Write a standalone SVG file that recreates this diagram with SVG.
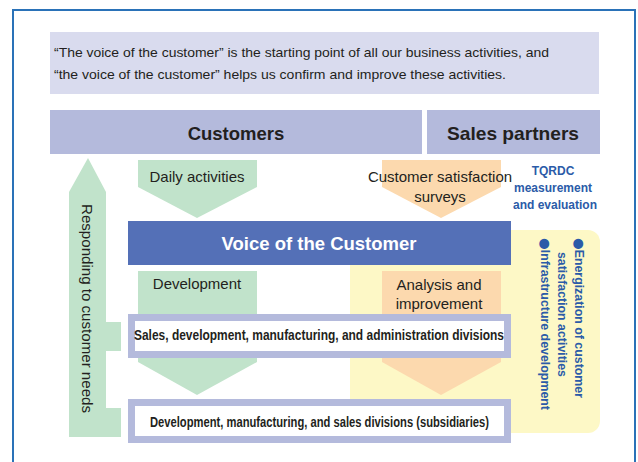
<svg xmlns="http://www.w3.org/2000/svg" width="638" height="462" viewBox="0 0 638 462">
<style>
.t{font-family:"Liberation Sans",Arial,sans-serif;fill:#231f20}
.r{font-size:15px}
.b{font-weight:bold}
.blue{fill:#2b5ba8;font-weight:bold;font-size:12px}
.bul{font-family:"DejaVu Sans",sans-serif;font-size:13px}
.green{fill:#c1e3cb}
.peach{fill:#fcd9ae}
.bar{fill:#b4badc}
.box{fill:#ffffff;stroke:#b4badc;stroke-width:7}
</style>
<rect width="638" height="462" fill="#ffffff"/>
<rect x="13" y="10" width="622" height="462" fill="none" stroke="#2a72b8" stroke-width="2"/>

<g id="intro">
<rect x="50" y="32" width="549" height="62" fill="#d9dbee"/>
<text class="t" x="54" y="57" font-size="13" textLength="495" lengthAdjust="spacingAndGlyphs">“The voice of the customer” is the starting point of all our business activities, and</text>
<text class="t" x="54" y="79" font-size="13" textLength="452" lengthAdjust="spacingAndGlyphs">“the voice of the customer” helps us confirm and improve these activities.</text>
</g>

<g id="customers">
<rect class="bar" x="50" y="110" width="372" height="44"/>
<text class="t b" x="236" y="140" font-size="18.5" text-anchor="middle">Customers</text>
</g>
<g id="sales-partners">
<rect class="bar" x="427" y="110" width="173" height="44"/>
<text class="t b" x="513" y="140" font-size="18.5" text-anchor="middle" textLength="132" lengthAdjust="spacingAndGlyphs">Sales partners</text>
</g>

<g id="support-area">
<rect x="350" y="230" width="250" height="203" rx="12" fill="#fdf8c6"/>
<text class="t blue" transform="translate(575,238) rotate(90)" font-size="12" textLength="160" lengthAdjust="spacingAndGlyphs"><tspan class="bul">●</tspan>Energization of customer</text>
<text class="t blue" transform="translate(558,252) rotate(90)" font-size="12" textLength="125" lengthAdjust="spacingAndGlyphs">satisfaction activities</text>
<text class="t blue" transform="translate(541,238) rotate(90)" font-size="12" textLength="172" lengthAdjust="spacingAndGlyphs"><tspan class="bul">●</tspan>Infrastructure development</text>
</g>

<g id="tqrdc">
<text class="t blue" x="553" y="175" text-anchor="middle">TQRDC</text>
<text class="t blue" x="553" y="192" text-anchor="middle">measurement</text>
<text class="t blue" x="555" y="209" text-anchor="middle">and evaluation</text>
</g>

<g id="connectors">
<g id="responding">
<path class="green" d="M88,158 L106,192 L106,322 L121,322 L121,351 L106,351 L106,408 L121,408 L121,437 L69,437 L69,192 Z"/>
<text class="t" transform="translate(82,204) rotate(90)" font-size="15" textLength="209" lengthAdjust="spacingAndGlyphs">Responding to customer needs</text>
</g>
<g id="daily-activities">
<path class="green" d="M138,160 L257,160 L257,187 L197,218 L138,187 Z"/>
<text class="t r" x="197" y="182" text-anchor="middle">Daily activities</text>
</g>
<g id="satisfaction-surveys">
<path class="peach" d="M382,160 L501,160 L501,187 L441,218 L382,187 Z"/>
<text class="t r" x="440" y="182" text-anchor="middle">Customer satisfaction</text>
<text class="t r" x="440" y="202" text-anchor="middle">surveys</text>
</g>
<g id="development">
<path class="green" d="M138,271 L257,271 L257,362 L197,395 L138,362 Z"/>
<text class="t r" x="197" y="289" text-anchor="middle">Development</text>
</g>
<g id="analysis">
<path class="peach" d="M382,271 L501,271 L501,362 L441,395 L382,362 Z"/>
<text class="t r" x="439" y="290" text-anchor="middle">Analysis and</text>
<text class="t r" x="439" y="309" text-anchor="middle">improvement</text>
</g>
</g>

<g id="voice">
<rect x="128" y="221" width="383" height="44" fill="#5470b7"/>
<text class="t b" x="319" y="250" font-size="18.5" text-anchor="middle" style="fill:#ffffff">Voice of the Customer</text>
</g>

<g id="divisions">
<rect class="box" x="131.5" y="317.5" width="376" height="37"/>
<text class="t b" x="319" y="340" font-size="15" text-anchor="middle" textLength="370" lengthAdjust="spacingAndGlyphs">Sales, development, manufacturing, and administration divisions</text>
</g>

<g id="subsidiaries">
<rect class="box" x="131.5" y="402.5" width="376" height="37"/>
<text class="t b" x="319.5" y="427" font-size="15" text-anchor="middle" textLength="339" lengthAdjust="spacingAndGlyphs">Development, manufacturing, and sales divisions (subsidiaries)</text>
</g>
</svg>
